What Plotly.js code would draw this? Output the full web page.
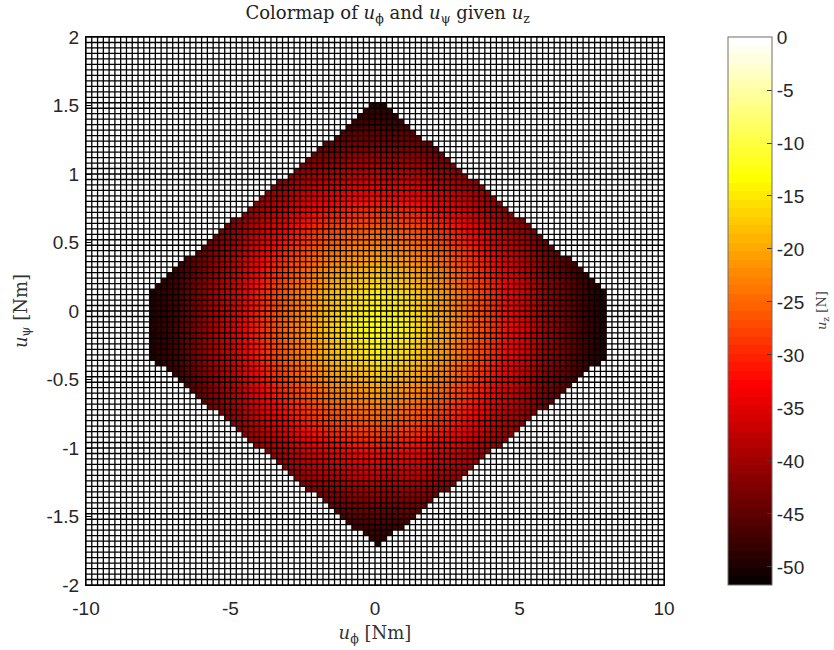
<!DOCTYPE html>
<html><head><meta charset="utf-8">
<script src="https://cdn.plot.ly/plotly-3.0.1.min.js"></script>
<style>html,body{margin:0;padding:0;background:#fff}#chart{width:834px;height:650px}</style>
</head><body><div id="chart"></div>
<script>
// ---- mesh definition (pcolor grid: 101 x 101 nodes, 100 x 100 cells) ----
const meshXRange = [-10, 10];
const meshYRange = [-2, 2];
const meshCells = 100;

// ---- u_z values at sample nodes ----
const nodeX = [-7.9,-6.9,-5.9,-4.9,-3.9,-2.9,-1.9,-0.9,0.1,1.1,2.1,3.1,4.1,5.1,6.1,7.1,8.1];
const nodeY = [-1.85,-1.6,-1.35,-1.1,-0.85,-0.6,-0.35,-0.1,0.15,0.4,0.65,0.9,1.15,1.4,1.65];
const uz = [
 [-51.7,-51.7,-51.7,-51.7,-51.7,-51.7,-51.4,-51.1,-51.0,-51.1,-51.4,-51.7,-51.7,-51.7,-51.7,-51.7,-51.7],
 [-51.7,-51.7,-51.7,-51.7,-50.7,-49.8,-48.6,-47.6,-47.3,-47.6,-48.6,-49.8,-50.7,-51.7,-51.7,-51.7,-51.7],
 [-51.7,-51.7,-51.0,-49.7,-47.2,-44.7,-42.7,-41.4,-41.0,-41.4,-42.7,-44.7,-47.2,-49.7,-51.0,-51.7,-51.7],
 [-51.7,-51.1,-49.5,-45.8,-42.2,-38.9,-36.3,-34.7,-34.1,-34.7,-36.3,-38.9,-42.2,-45.8,-49.5,-51.1,-51.7],
 [-51.4,-49.7,-45.9,-41.6,-37.4,-33.3,-30.1,-28.0,-27.3,-28.0,-30.1,-33.3,-37.4,-41.6,-45.9,-49.7,-51.4],
 [-50.8,-48.0,-43.4,-38.4,-33.1,-28.5,-24.7,-21.9,-20.9,-21.9,-24.7,-28.5,-33.1,-38.4,-43.4,-48.0,-50.8],
 [-50.3,-46.5,-41.4,-35.9,-30.3,-25.2,-20.5,-16.7,-14.9,-16.7,-20.5,-25.2,-30.3,-35.9,-41.4,-46.5,-50.3],
 [-50.1,-46.0,-40.7,-35.0,-29.3,-23.9,-18.8,-14.1,-12.5,-14.1,-18.8,-23.9,-29.3,-35.0,-40.7,-46.0,-50.1],
 [-50.3,-46.5,-41.4,-35.9,-30.3,-25.2,-20.5,-16.7,-14.9,-16.7,-20.5,-25.2,-30.3,-35.9,-41.4,-46.5,-50.3],
 [-50.8,-48.0,-43.4,-38.4,-33.1,-28.5,-24.7,-21.9,-20.9,-21.9,-24.7,-28.5,-33.1,-38.4,-43.4,-48.0,-50.8],
 [-51.4,-49.7,-45.9,-41.6,-37.4,-33.3,-30.1,-28.0,-27.3,-28.0,-30.1,-33.3,-37.4,-41.6,-45.9,-49.7,-51.4],
 [-51.7,-51.1,-49.5,-45.8,-42.2,-38.9,-36.3,-34.7,-34.1,-34.7,-36.3,-38.9,-42.2,-45.8,-49.5,-51.1,-51.7],
 [-51.7,-51.7,-51.0,-49.7,-47.2,-44.7,-42.7,-41.4,-41.0,-41.4,-42.7,-44.7,-47.2,-49.7,-51.0,-51.7,-51.7],
 [-51.7,-51.7,-51.7,-51.7,-50.7,-49.8,-48.6,-47.6,-47.3,-47.6,-48.6,-49.8,-50.7,-51.7,-51.7,-51.7,-51.7],
 [-51.7,-51.7,-51.7,-51.7,-51.7,-51.7,-51.4,-51.1,-51.0,-51.1,-51.4,-51.7,-51.7,-51.7,-51.7,-51.7,-51.7]
];
// feasible region outline (cells outside are u_z = 0, drawn white)
const regionX = [-7.8, -7.8, 0.1, 8.0, 8.0, 0.1];
const regionY = [-0.33, 0.155, 1.535, 0.155, -0.33, -1.725];

// colour limits and ticks
const cMin = -51.7, cMax = 0;
const cbTicks = [0,-5,-10,-15,-20,-25,-30,-35,-40,-45,-50];
const xTicks = [-10,-5,0,5,10];
const yTicks = [-2,-1.5,-1,-0.5,0,0.5,1,1.5,2];

// ---- MATLAB "hot" (64 levels) ----
function hot64(){
  const n=64,n1=24,n2=24,n3=16,cs=[];
  for(let k=0;k<n;k++){
    const r = k<n1 ? (k+1)/n1 : 1;
    const g = k<n1 ? 0 : (k<n1+n2 ? (k-n1+1)/n2 : 1);
    const b = k<n1+n2 ? 0 : (k-n1-n2+1)/n3;
    const c='rgb('+Math.round(r*255)+','+Math.round(g*255)+','+Math.round(b*255)+')';
    cs.push([k/n,c]); cs.push([(k+1)/n,c]);
  }
  return cs;
}

// mesh edges
const edgesX=[], edgesY=[];
for(let i=0;i<=meshCells;i++){
  edgesX.push(meshXRange[0]+(meshXRange[1]-meshXRange[0])*i/meshCells);
  edgesY.push(meshYRange[0]+(meshYRange[1]-meshYRange[0])*i/meshCells);
}
function inside(px,py){
  let c=false;
  for(let i=0,j=regionX.length-1;i<regionX.length;j=i++){
    const xi=regionX[i],yi=regionY[i],xj=regionX[j],yj=regionY[j];
    if(((yi>py)!==(yj>py)) && (px < (xj-xi)*(py-yi)/(yj-yi)+xi)) c=!c;
  }
  return c;
}
const maskZ=[];
for(let j=0;j<meshCells;j++){
  const row=[]; const cy=(edgesY[j]+edgesY[j+1])/2;
  for(let i=0;i<meshCells;i++){
    const cx=(edgesX[i]+edgesX[i+1])/2;
    row.push(inside(cx,cy)?null:cMax);
  }
  maskZ.push(row);
}
const lx=[], ly=[];
edgesX.forEach(x=>{lx.push(x,x,null); ly.push(meshYRange[0],meshYRange[1],null);});
edgesY.forEach(y=>{lx.push(meshXRange[0],meshXRange[1],null); ly.push(y,y,null);});

const sans='"Liberation Sans", Arial, sans-serif';
const serif='"DejaVu Serif", "Liberation Serif", serif';

const traces=[
  {type:'heatmap', x:nodeX, y:nodeY, z:uz, zsmooth:'best', zmin:cMin, zmax:cMax,
   colorscale:hot64(), hoverinfo:'skip',
   colorbar:{x:(728-86)/578, xanchor:'left', xref:'paper', y:0.5, yanchor:'middle',
     len:1, lenmode:'fraction', thickness:44, thicknessmode:'pixels', xpad:0, ypad:0,
     outlinewidth:1, outlinecolor:'#6e6e6e', ticks:'inside', ticklen:5, tickcolor:'#3a3a3a',
     tickvals:cbTicks, ticktext:cbTicks.map(String), ticklabelstandoff:2,
     tickfont:{family:sans, size:19, color:'#262626'}}},
  {type:'heatmap', x:edgesX, y:edgesY, z:maskZ, zmin:-1, zmax:0,
   colorscale:[[0,'#ffffff'],[1,'#ffffff']], showscale:false, hoverinfo:'skip'},
  {type:'scatter', mode:'lines', x:lx, y:ly, line:{color:'#000', width:1.3},
   hoverinfo:'skip', showlegend:false, connectgaps:false}
];

const layout={
  width:834, height:650,
  margin:{l:86, r:170, t:37, b:65},
  paper_bgcolor:'#fff', plot_bgcolor:'#fff',
  showlegend:false,
  title:{text:'Colormap of <i>u</i><sub>ϕ</sub> and <i>u</i><sub>ψ</sub> given <i>u</i><sub>z</sub>',
    font:{family:serif, size:18, color:'#222'}, x:0.522, xref:'paper', xanchor:'center',
    y:0.98, yref:'container', yanchor:'middle'},
  xaxis:{range:meshXRange, tickvals:xTicks, ticktext:xTicks.map(String),
    showgrid:false, zeroline:false, showline:true, mirror:true, linecolor:'#000', linewidth:1,
    ticks:'inside', ticklen:5, tickcolor:'#000', ticklabelstandoff:6,
    tickfont:{family:sans, size:19, color:'#262626'},
    title:{text:'<i>u</i><sub>ϕ</sub> [Nm]', font:{family:serif, size:18, color:'#333'}, standoff:8}},
  yaxis:{range:meshYRange, tickvals:yTicks, ticktext:yTicks.map(String),
    showgrid:false, zeroline:false, showline:true, mirror:true, linecolor:'#000', linewidth:1,
    ticks:'inside', ticklen:5, tickcolor:'#000', ticklabelstandoff:2,
    tickfont:{family:sans, size:19, color:'#262626'},
    title:{text:'<i>u</i><sub>ψ</sub> [Nm]', font:{family:serif, size:18, color:'#333'}, standoff:14}},
  annotations:[{text:'<i>u</i><sub>z</sub> [N]', xref:'paper', yref:'paper',
    x:(822-86)/578, y:0.5, xanchor:'center', yanchor:'middle', textangle:-90, showarrow:false,
    font:{family:serif, size:13, color:'#444'}}]
};
Plotly.newPlot('chart', traces, layout, {staticPlot:true, displayModeBar:false});
</script></body></html>
